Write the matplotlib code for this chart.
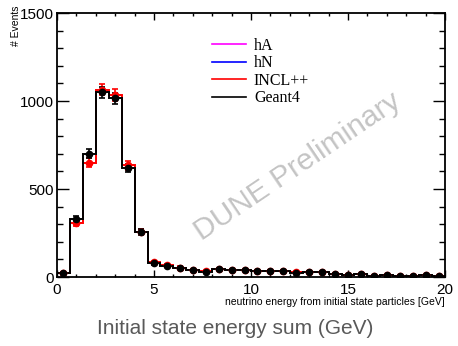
import numpy as np
import matplotlib
matplotlib.use("Agg")
import matplotlib.pyplot as plt
from matplotlib.lines import Line2D
from matplotlib.ticker import MultipleLocator

# 30 bins of 2/3 GeV from 0 to 20
edges = np.linspace(0, 20, 31)
geant4 = [25, 330, 700, 1050, 1015, 620, 255,
          78, 65, 52, 38, 30, 45, 38, 40, 32, 32, 32, 22,
          28, 28, 19, 13, 15, 8, 10, 7, 7, 10, 4]
incl = [20, 305, 650, 1065, 1035, 635, 258,
        84, 68, 54, 40, 34, 47, 40, 40, 33, 33, 33, 27,
        28, 28, 19, 13, 15, 8, 10, 7, 7, 10, 4]
labels = ['hA', 'hN', 'INCL++', 'Geant4']
colors = ['#ff00ff', '#0000ff', '#ff0000', '#000000']

fig = plt.figure(figsize=(4.58, 3.46), dpi=100)
ax = fig.add_axes([0.1245, 0.1994, 0.8471, 0.763])

centers = 0.5 * (edges[:-1] + edges[1:])
for vals, c in [(incl, '#ff0000'), (geant4, '#000000')]:
    vals = np.array(vals, dtype=float)
    ax.stairs(vals, edges, color=c, lw=1.4)
    ax.errorbar(centers, vals, yerr=np.sqrt(vals), fmt='o', color=c,
                ms=4.5, elinewidth=1.2, capsize=2, capthick=1.2)

ax.set_xlim(0, 20)
ax.set_ylim(0, 1500)
ax.xaxis.set_major_locator(MultipleLocator(5))
ax.xaxis.set_minor_locator(MultipleLocator(1))
ax.yaxis.set_major_locator(MultipleLocator(500))
ax.yaxis.set_minor_locator(MultipleLocator(100))
ax.tick_params(which='both', direction='in', top=True, right=True, width=1,
               labelsize=11, labelfontfamily='Liberation Sans')
ax.tick_params(axis='x', which='major', length=5, pad=4)
ax.tick_params(axis='x', which='minor', length=2.5)
ax.tick_params(axis='y', which='major', length=8.5, pad=2)
ax.tick_params(axis='y', which='minor', length=4.3)
for s in ax.spines.values():
    s.set_linewidth(1.3)

fig.text(0.036, 0.985, '# Events', rotation=90, ha='center', va='top',
         fontsize=7.5, family='Liberation Sans')
fig.text(0.9716, 0.128, 'neutrino energy from initial state particles [GeV]',
         ha='right', va='center', fontsize=7.5, family='Liberation Sans')
fig.text(0.513, 0.052, 'Initial state energy sum (GeV)', ha='center',
         va='center', fontsize=15, color='#595959', family='Liberation Sans')

ax.text(0.62, 0.42, 'DUNE Preliminary', transform=ax.transAxes,
        rotation=34, ha='center', va='center', fontsize=21.5,
        color='#c4c4c4', family='Liberation Sans', zorder=0)

handles = [Line2D([], [], color=c, lw=1.2) for c in colors]
ax.legend(handles, labels, loc='upper left', bbox_to_anchor=(0.38, 0.937),
          frameon=False, prop={'family': 'Liberation Serif', 'size': 11.5},
          handlelength=2.1, handletextpad=0.5, labelspacing=0.1,
          borderpad=0)

fig.savefig('out.png', dpi=100)
